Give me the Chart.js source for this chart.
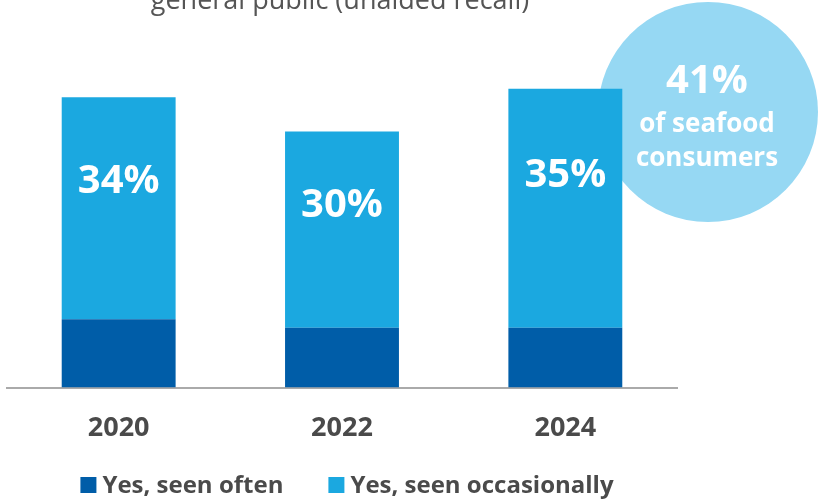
<!DOCTYPE html>
<html>
<head>
<meta charset="utf-8">
<title>Seen often / occasionally</title>
<script src="https://cdn.jsdelivr.net/npm/chart.js@4/dist/chart.umd.min.js"></script>
<style>
  html, body { margin: 0; padding: 0; background: #fff; }
  #wrap { width: 821px; height: 502px; }
</style>
</head>
<body>
<div id="wrap"><canvas id="myChart" width="821" height="502"></canvas></div>
<script>
// datos del grafico
const anios = ['2020', '2022', '2024'];
const vistoSeguido = [8, 7, 7];
const vistoOcasional = [26, 23, 28];
const totales = [34, 30, 35];
const nombresSeries = ['Yes, seen often', 'Yes, seen occasionally'];
const subtitulo = 'general public (unaided recall)';
const burbujaValor = 41;
const burbujaTexto = ['of seafood', 'consumers'];

const FUENTE = '"Open Sans", "Noto Sans", sans-serif';
const AZUL_OSCURO = '#005da8';
const AZUL_CLARO = '#1ba8e0';
const AZUL_BURBUJA = '#96d8f3';
const GRIS_TEXTO = '#4a4a4a';

// subtitulo, burbuja, porcentajes y leyenda propia
const extras = {
    id: 'extras',
    beforeDatasetsDraw(chart) {
        const { ctx, chartArea } = chart;
        ctx.save();
        // burbuja detras de la ultima barra
        const cx = chartArea.right + 31;
        const cy = chartArea.top + 66;
        ctx.fillStyle = AZUL_BURBUJA;
        ctx.beginPath();
        ctx.arc(cx, cy, 110, 0, Math.PI * 2);
        ctx.fill();
        ctx.fillStyle = '#fff';
        ctx.textAlign = 'center';
        ctx.textBaseline = 'alphabetic';
        ctx.font = `bold 40px ${FUENTE}`;
        ctx.fillText(burbujaValor + '%', cx - 1, cy - 19);
        ctx.font = `bold 26px ${FUENTE}`;
        ctx.fillText(burbujaTexto[0], cx - 1, cy + 20);
        ctx.fillText(burbujaTexto[1], cx - 1, cy + 54);
        // subtitulo cortado arriba
        ctx.fillStyle = '#555';
        ctx.font = `27px ${FUENTE}`;
        ctx.fillText(subtitulo, 340, 9);
        ctx.restore();
    },
    afterDatasetsDraw(chart) {
        const { ctx, scales: { x, y } } = chart;
        ctx.save();
        ctx.fillStyle = '#fff';
        ctx.font = `bold 40px ${FUENTE}`;
        ctx.textAlign = 'center';
        ctx.textBaseline = 'middle';
        totales.forEach((t, i) => {
            ctx.fillText(t + '%', x.getPixelForValue(i), y.getPixelForValue(t * 0.71));
        });
        ctx.restore();
    },
    afterDraw(chart) {
        // leyenda abajo, centrada bajo el area del grafico
        const { ctx, chartArea } = chart;
        const caja = 16, separacion = 6, entreItems = 45;
        ctx.save();
        ctx.font = `bold 24px ${FUENTE}`;
        ctx.textBaseline = 'alphabetic';
        ctx.textAlign = 'left';
        const anchos = nombresSeries.map(n => ctx.measureText(n).width);
        const total = anchos.reduce((a, b) => a + b, 0) + nombresSeries.length * (caja + separacion) + entreItems;
        let px = (chartArea.left + chartArea.right) / 2 + 5 - total / 2;
        const base = 493;
        chart.data.datasets.forEach((ds, i) => {
            ctx.fillStyle = ds.backgroundColor;
            ctx.fillRect(px, base - caja, caja, caja);
            px += caja + separacion;
            ctx.fillStyle = GRIS_TEXTO;
            ctx.fillText(nombresSeries[i], px, base);
            px += anchos[i] + entreItems;
        });
        ctx.restore();
    }
};

function generar_grafico() {
    const data = {
        labels: anios,
        datasets: [{
            label: nombresSeries[0],
            data: vistoSeguido,
            backgroundColor: AZUL_OSCURO,
            barPercentage: 0.51,
            categoryPercentage: 1
        }, {
            label: nombresSeries[1],
            data: vistoOcasional,
            backgroundColor: AZUL_CLARO,
            barPercentage: 0.51,
            categoryPercentage: 1
        }]
    };

    const config = {
        type: 'bar',
        data: data,
        options: {
            responsive: false,
            animation: false,
            layout: { padding: { left: 7, right: 144, top: 46, bottom: 32 } },
            scales: {
                x: {
                    stacked: true,
                    grid: { display: false, drawTicks: false },
                    border: { display: true, color: '#aaa', width: 2 },
                    ticks: {
                        color: GRIS_TEXTO,
                        font: { family: FUENTE, size: 27, weight: 'bold' },
                        padding: 25
                    }
                },
                y: {
                    stacked: true,
                    display: false,
                    min: 0,
                    max: 40
                }
            },
            plugins: {
                legend: { display: false },
                tooltip: { enabled: false }
            }
        },
        plugins: [extras]
    };

    return new Chart(document.getElementById('myChart'), config);
}

const myChart = generar_grafico();
</script>
</body>
</html>
